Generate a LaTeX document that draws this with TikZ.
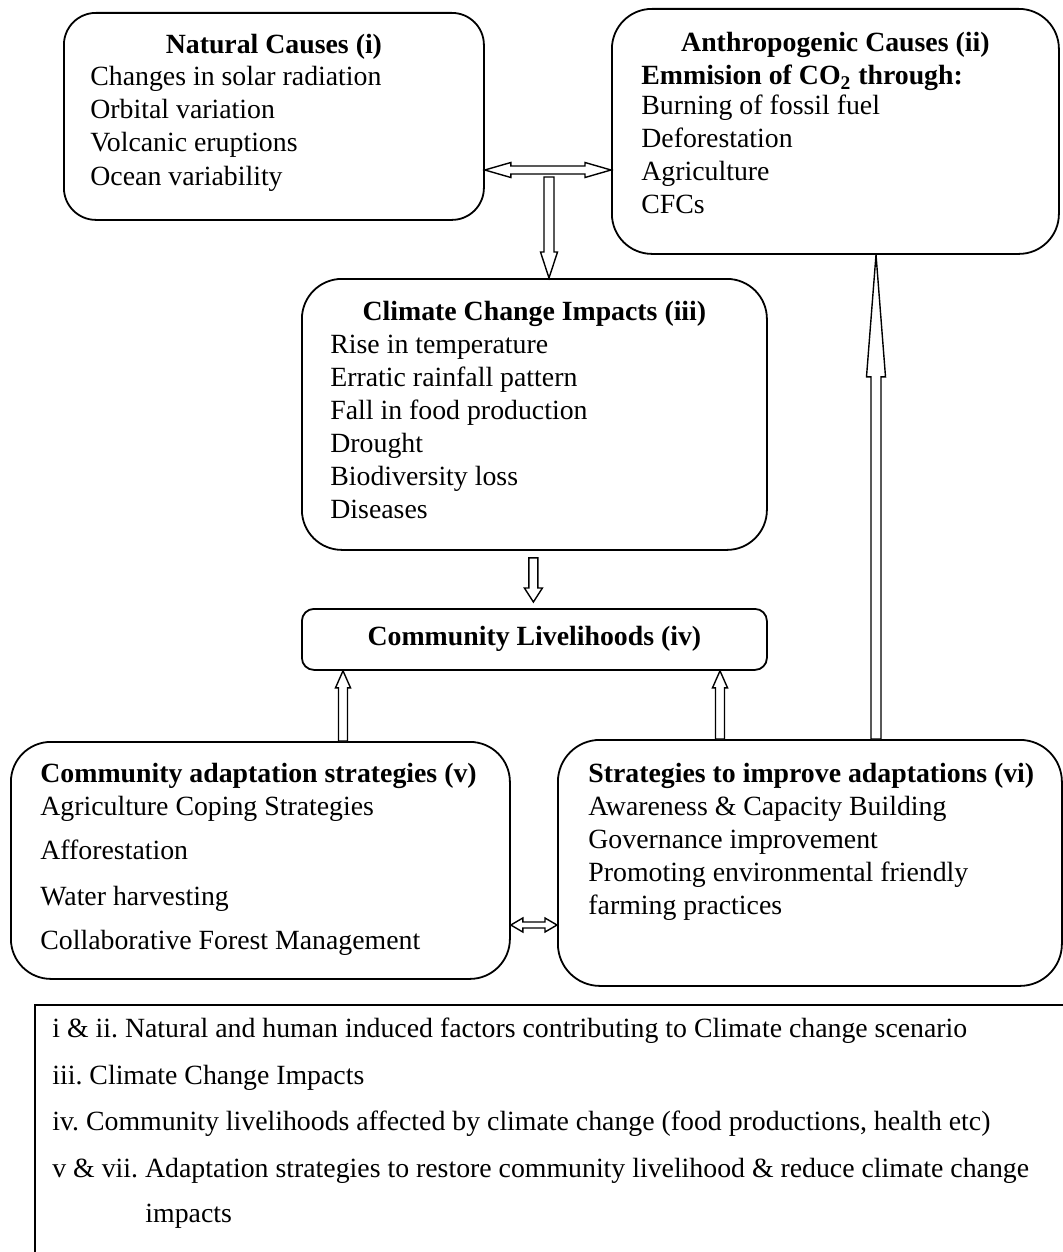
\documentclass[tikz,border=0pt]{standalone}
\usepackage{fontspec}
\setmainfont{Liberation Serif}
\usetikzlibrary{calc}
\usetikzlibrary{positioning}
\frenchspacing

\tikzset{
  box/.style={draw, line width=0.9pt, anchor=north west, inner sep=0pt},
  title/.style={font=\fontsize{13.9}{16.6}\selectfont\bfseries, inner sep=0pt},
  item/.style={font=\fontsize{13.9}{16.6}\selectfont, inner sep=0pt, anchor=base west},
  hollow/.style={draw, line width=0.7pt, fill=white, line join=miter},
}

% hollow block arrow: start, tip, shaft half width, head half width, head length
\newcommand{\hollowarrow}[5]{%
  \path let \p1=#1, \p2=#2 in \pgfextra{%
    \pgfmathsetmacro\arrlen{veclen(\x2-\x1,\y2-\y1)}%
    \pgfmathsetmacro\arrang{atan2(\y2-\y1,\x2-\x1)}%
    \global\let\arrlen\arrlen \global\let\arrang\arrang};
  \begin{scope}[shift={#1},rotate=\arrang]
    \draw[hollow] (0pt,#3) -- ({\arrlen pt-#5},#3) -- ({\arrlen pt-#5},#4)
      -- (\arrlen pt,0pt) -- ({\arrlen pt-#5},-#4) -- ({\arrlen pt-#5},-#3)
      -- (0pt,-#3) -- cycle;
  \end{scope}}
% same with a head at both ends
\newcommand{\hollowdarrow}[5]{%
  \path let \p1=#1, \p2=#2 in \pgfextra{%
    \pgfmathsetmacro\arrlen{veclen(\x2-\x1,\y2-\y1)}%
    \pgfmathsetmacro\arrang{atan2(\y2-\y1,\x2-\x1)}%
    \global\let\arrlen\arrlen \global\let\arrang\arrang};
  \begin{scope}[shift={#1},rotate=\arrang]
    \draw[hollow] (0pt,0pt) -- (#5,#4) -- (#5,#3) -- ({\arrlen pt-#5},#3)
      -- ({\arrlen pt-#5},#4) -- (\arrlen pt,0pt) -- ({\arrlen pt-#5},-#4)
      -- ({\arrlen pt-#5},-#3) -- (#5,-#3) -- (#5,-#4) -- cycle;
  \end{scope}}

\begin{document}
\begin{tikzpicture}[x=0.5pt,y=-0.5pt]
    \clip (0,0) rectangle (1063,1252);

    % boxes
    \node[box, rounded corners=16pt, minimum width=210pt, minimum height=103.5pt] (nat) at (63,12) {};
    \node[box, rounded corners=20pt, minimum width=223.5pt, minimum height=122.5pt] (ant) at (611,8) {};
    \node[box, rounded corners=20pt, minimum width=232.5pt, minimum height=135.5pt] (cci) at (301,278) {};
    \node[box, rounded corners=6pt, minimum width=232.5pt, minimum height=30.5pt] (liv) at (301,608) {};
    \node[box, rounded corners=20pt, minimum width=249.5pt, minimum height=118.5pt] (cas) at (10,741) {};
    \node[box, rounded corners=21pt, minimum width=252pt, minimum height=123pt] (sia) at (557,739) {};
    \node[box, minimum width=600pt, minimum height=200pt] (legend) at (34,1004) {};

    % natural causes
    \node[title, anchor=base] (nat-t) at ($(nat.north)+(0,42)$) {Natural Causes (i)};
    \foreach \txt [count=\i] in {Changes in solar radiation, Orbital variation, Volcanic eruptions, Ocean variability}
      \node[item] (nat-\i) at ($(nat.north west)+(27,40+33.3*\i)$) {\txt};

    % anthropogenic causes
    \node[title, anchor=base] (ant-t) at ($(ant.north)+(0,44)$) {Anthropogenic Causes (ii)};
    \node[title, anchor=base west] (ant-s) at ($(ant.north west)+(30,77)$) {Emmision of CO\textsubscript{2} through:};
    \foreach \txt [count=\i] in {Burning of fossil fuel, Deforestation, Agriculture, CFCs}
      \node[item] (ant-\i) at ($(ant.north west)+(30,74.3+32.7*\i)$) {\txt};

    % impacts
    \node[title, anchor=base] (cci-t) at ($(cci.north)+(0,42)$) {Climate Change Impacts (iii)};
    \foreach \txt [count=\i] in {Rise in temperature, Erratic rainfall pattern, Fall in food production, Drought, Biodiversity loss, Diseases}
      \node[item] (cci-\i) at ($(cci.north west)+(29,42+33*\i)$) {\txt};

    % livelihoods
    \node[title, anchor=base] (liv-t) at ($(liv.north)+(0,37)$) {Community Livelihoods (iv)};

    % community adaptation
    \node[title, anchor=base west] (cas-t) at ($(cas.north west)+(30,41)$) {Community adaptation strategies (v)};
    \foreach \txt/\dy [count=\i] in {Agriculture Coping Strategies/74, Afforestation/118, Water harvesting/164, Collaborative Forest Management/208}
      \node[item] (cas-\i) at ($(cas.north west)+(30,\dy)$) {\txt};

    % improving adaptation
    \node[title, anchor=base west] (sia-t) at ($(sia.north west)+(31,43)$) {Strategies to improve adaptations (vi)};
    \foreach \txt [count=\i] in {Awareness \& Capacity Building, Governance improvement, Promoting environmental friendly, farming practices}
      \node[item] (sia-\i) at ($(sia.north west)+(31,43+33*\i)$) {\txt};

    % legend
    \foreach \txt/\dx/\dy [count=\i] in {i \& ii. Natural and human induced factors contributing to Climate change scenario/18/33,
        iii. Climate Change Impacts/18/80,
        {iv. Community livelihoods affected by climate change (food productions, health etc)}/18/126,
        v \& vii. Adaptation strategies to restore community livelihood \& reduce climate change/18/173,
        impacts/111/218}
      \node[item] (leg-\i) at ($(legend.north west)+(\dx,\dy)$) {\txt};

    % arrows
    \coordinate (link) at (0,170);
    \hollowdarrow{(nat.east |- link)}{(ant.west |- link)}{2pt}{3.75pt}{13pt}
    \coordinate (split) at (549,177);
    \hollowarrow{(split)}{(split |- cci.north)}{2.5pt}{4.25pt}{13pt}
    \hollowarrow{($(cci.south)+(-1,7)$)}{($(liv.north)+(-1,-6)$)}{2.25pt}{4.5pt}{7pt}
    \coordinate (upl) at (343,0);
    \coordinate (upr) at (720,0);
    \hollowarrow{(upl |- cas.north)}{(upl |- liv.south)}{2.25pt}{3.75pt}{8.5pt}
    \hollowarrow{(upr |- sia.north)}{(upr |- liv.south)}{2.25pt}{3.75pt}{8.5pt}
    \coordinate (low) at (0,925);
    \hollowdarrow{(cas.east |- low)}{(sia.west |- low)}{1.5pt}{3.5pt}{6pt}
    \coordinate (tall) at (876,0);
    \hollowarrow{(tall |- sia.north)}{(tall |- ant.south)}{2.5pt}{4.75pt}{61pt}
\end{tikzpicture}
\end{document}
